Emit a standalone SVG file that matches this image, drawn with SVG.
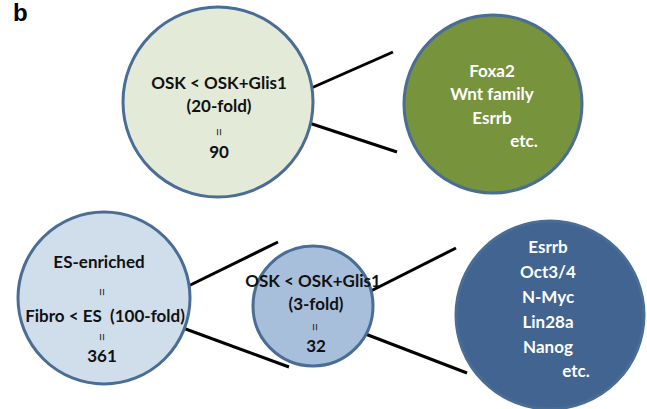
<svg xmlns="http://www.w3.org/2000/svg" width="647" height="409" viewBox="0 0 647 409">
<style>
.c{stroke:#4a6d96;stroke-width:3}
.t{font-family:Lato,"Liberation Sans",sans-serif;font-weight:bold;font-size:17px;text-anchor:middle;fill:#111}
.w{fill:#ffffff}
.eq{font-family:"Liberation Sans",sans-serif;font-size:13px;text-anchor:middle;fill:#222}
.l{stroke:#000;stroke-width:3;fill:none}
</style>
<rect width="647" height="409" fill="#fff"/>
<text x="13" y="21" font-family="Liberation Sans,Arial,sans-serif" font-weight="bold" font-size="24" fill="#000">b</text>
<g id="connectors">
<line class="l" x1="300" y1="93" x2="393" y2="52"/>
<line class="l" x1="300" y1="120" x2="397" y2="152"/>
<line class="l" x1="172" y1="294" x2="278" y2="242"/>
<line class="l" x1="172" y1="324" x2="289" y2="367"/>
<line class="l" x1="355" y1="299" x2="456" y2="248"/>
<line class="l" x1="355" y1="330" x2="467" y2="373"/>
</g>
<g id="n1">
<circle class="c" cx="218" cy="102" r="95" fill="#e3ead7"/>
<text class="t" x="219" y="89">OSK &lt; OSK+Glis1</text>
<text class="t" x="219" y="112">(20-fold)</text>
<text class="eq" x="219" y="132" transform="rotate(90 219 132)" dy="4">=</text>
<text class="t" x="219" y="158">90</text>
</g>
<g id="n2">
<circle class="c" cx="493" cy="104" r="89" fill="#77933c"/>
<text class="t w" x="492" y="77">Foxa2</text>
<text class="t w" x="492" y="100">Wnt family</text>
<text class="t w" x="492" y="124">Esrrb</text>
<text class="t w" x="524" y="147">etc.</text>
</g>
<g id="n3">
<circle class="c" cx="104" cy="298" r="86" fill="#d0deec"/>
<text class="t" x="99" y="268">ES-enriched</text>
<text class="eq" x="102" y="292" transform="rotate(90 102 292)" dy="4">=</text>
<text class="t" x="105" y="322">Fibro &lt; ES&#160; (100-fold)</text>
<text class="eq" x="102" y="337" transform="rotate(90 102 337)" dy="4">=</text>
<text class="t" x="102" y="362">361</text>
</g>
<g id="n4">
<circle class="c" cx="313" cy="306" r="60" fill="#a8bfdb"/>
<text class="t" x="313" y="287" font-size="15.5">OSK &lt; OSK+Glis1</text>
<text class="t" x="316" y="310">(3-fold)</text>
<text class="eq" x="315" y="327" transform="rotate(90 315 327)" dy="4">=</text>
<text class="t" x="316" y="352">32</text>
</g>
<g id="n5">
<circle class="c" cx="550" cy="315" r="94" fill="#416490"/>
<text class="t w" x="548" y="253" font-size="19">Esrrb</text>
<text class="t w" x="548" y="278" font-size="19">Oct3/4</text>
<text class="t w" x="548" y="303" font-size="19">N-Myc</text>
<text class="t w" x="548" y="328" font-size="19">Lin28a</text>
<text class="t w" x="548" y="353" font-size="19">Nanog</text>
<text class="t w" x="576" y="377" font-size="19">etc.</text>
</g>
</svg>
